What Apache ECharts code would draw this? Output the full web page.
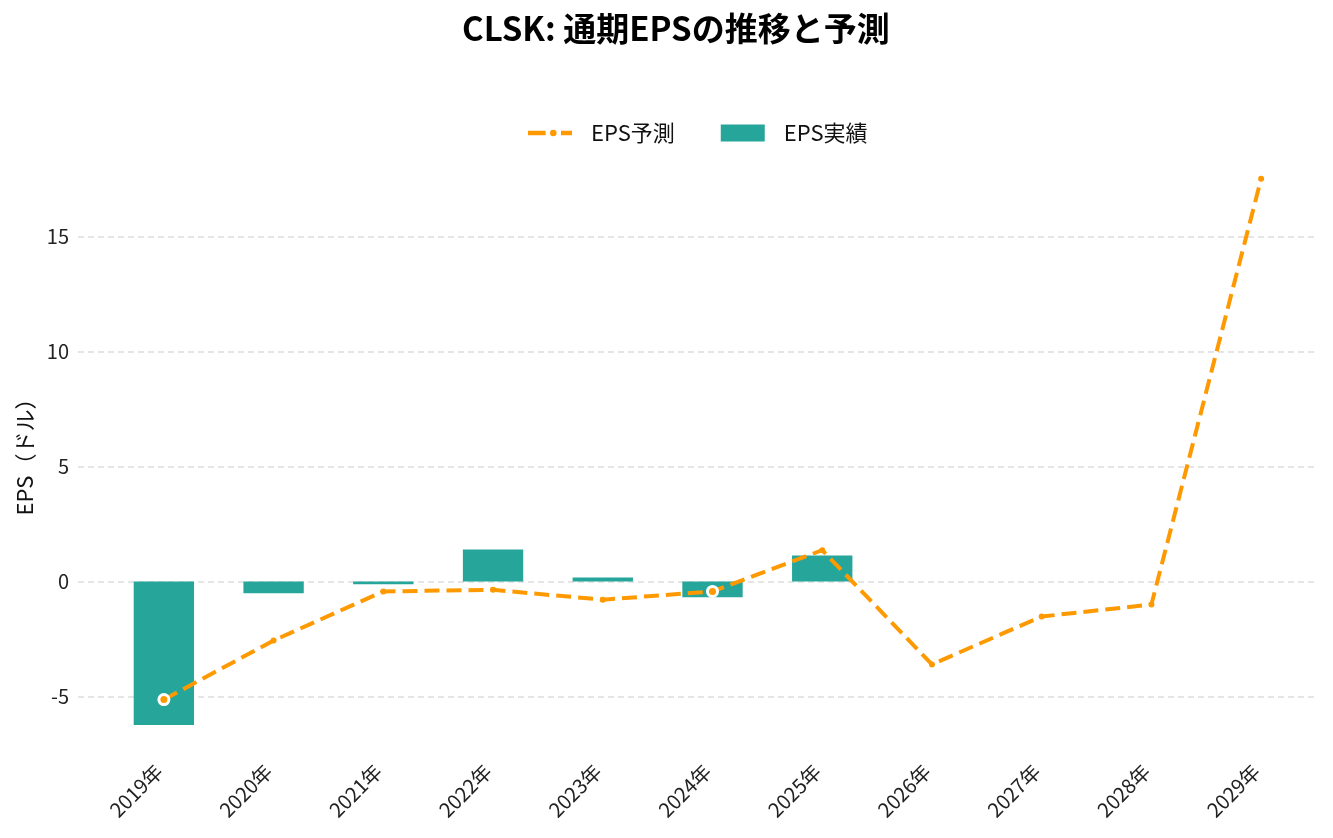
<!DOCTYPE html>
<html>
<head>
<meta charset="utf-8">
<script src="https://cdn.jsdelivr.net/npm/echarts@6/dist/echarts.min.js"></script>
<style>
html,body{margin:0;padding:0;background:#fff;}
#c{width:1333px;height:838px;}
</style>
</head>
<body>
<div id="c"></div>
<script>
var categories = ['2019年','2020年','2021年','2022年','2023年','2024年','2025年','2026年','2027年','2028年','2029年'];
var epsActual = [-6.23, -0.51, -0.12, 1.39, 0.17, -0.68, 1.13, null, null, null, null];
var epsForecast = [-5.13, -2.56, -0.43, -0.36, -0.79, -0.43, 1.36, -3.6, -1.52, -1.0, 17.5];
var highlightYears = ['2019年','2024年'];
var yTicks = [-5, 0, 5, 10, 15];

var FONT = '"Noto Sans CJK JP", "Noto Sans", sans-serif';
var ORANGE = '#ff9900';
var TEAL = '#26a69a';
var Y_MIN = -7.45, Y_MAX = 18.75;

var forecastData = epsForecast.map(function (v, i) {
  if (highlightYears.indexOf(categories[i]) >= 0) {
    return { value: v, symbolSize: 10, itemStyle: { color: ORANGE, borderColor: '#ffffff', borderWidth: 3 } };
  }
  return v;
});

var chart = echarts.init(document.getElementById('c'));
chart.setOption({
  backgroundColor: '#ffffff',
  textStyle: { fontFamily: FONT },
  title: {
    text: 'CLSK: 通期EPSの推移と予測',
    left: 457,
    top: 7,
    textStyle: { fontFamily: FONT, fontSize: 33, fontWeight: 'bold', color: '#000' }
  },
  legend: {
    top: 117,
    left: 523,
    itemGap: 46,
    itemWidth: 44,
    itemHeight: 17,
    data: [
      { name: 'EPS予測', icon: 'path://M0,1h16v4h-16z M20,3a3,3 0 1,0 6,0a3,3 0 1,0 -6,0z M30,1h10v4h-10z', itemStyle: { color: ORANGE, borderWidth: 0 } },
      { name: 'EPS実績', icon: 'rect', itemStyle: { color: TEAL, borderWidth: 0 } }
    ],
    textStyle: { fontFamily: FONT, fontSize: 22, color: '#111', padding: [0, 0, 0, 14] }
  },
  grid: [
    { left: 78, right: 15, top: 150, bottom: 85, containLabel: false },
    { left: 109, right: 17, top: 150, bottom: 85, containLabel: false }
  ],
  xAxis: [
    { type: 'value', gridIndex: 0, show: false, min: 0, max: 1 },
    {
      type: 'category',
      gridIndex: 1,
      data: categories,
      boundaryGap: true,
      axisLine: { show: false },
      axisTick: { show: false },
      axisLabel: { rotate: 45, fontSize: 20, color: '#222', fontFamily: FONT, margin: 10, interval: 0, padding: [0, 7, 0, 0] }
    }
  ],
  yAxis: [
    {
      type: 'value',
      gridIndex: 0,
      min: Y_MIN,
      max: Y_MAX,
      name: 'EPS（ドル）',
      nameLocation: 'middle',
      nameGap: 39,
      nameTextStyle: { fontFamily: FONT, fontSize: 22, color: '#111' },
      axisLine: { show: false },
      axisTick: { show: false },
      axisLabel: {
        fontSize: 20, color: '#222', fontFamily: FONT, margin: 9,
        showMinLabel: false, showMaxLabel: false,
        formatter: function (v) { return yTicks.indexOf(v) >= 0 ? String(v) : ''; }
      },
      splitLine: {
        show: true, showMinLine: false, showMaxLine: false,
        lineStyle: { color: '#dddddd', type: [6, 4], width: 1.5 }
      }
    },
    { type: 'value', gridIndex: 1, min: Y_MIN, max: Y_MAX, show: false, splitLine: { show: false } }
  ],
  series: [
    {
      name: 'EPS予測',
      type: 'line',
      xAxisIndex: 1,
      yAxisIndex: 1,
      data: forecastData,
      z: 5,
      symbol: 'circle',
      symbolSize: 6,
      smooth: false,
      lineStyle: { color: ORANGE, width: 4, type: [15, 7] },
      itemStyle: { color: ORANGE }
    },
    {
      name: 'EPS実績',
      type: 'bar',
      xAxisIndex: 1,
      yAxisIndex: 1,
      data: epsActual,
      barWidth: '55%',
      z: 2,
      itemStyle: { color: TEAL }
    }
  ]
});
</script>
</body>
</html>
